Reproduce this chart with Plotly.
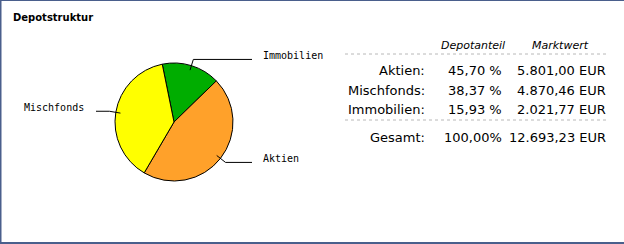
import math
import plotly.graph_objects as go

W, H = 624, 244

# ---- data ----
categories = ["Aktien", "Mischfonds", "Immobilien"]
depotanteil = [45.70, 38.37, 15.93]
marktwert = [5801.00, 4870.46, 2021.77]
gesamt_anteil = 100.00
gesamt_wert = 12693.23
pie_order = ["Immobilien", "Aktien", "Mischfonds"]
slice_colors = {"Aktien": "#FFA12A", "Mischfonds": "#FFFF00", "Immobilien": "#00AD00"}

def de(x, nd=2):
    s = f"{x:,.{nd}f}"
    return s.replace(",", "X").replace(".", ",").replace("X", ".")

def px(x):
    return x / W

def py(y):
    return 1 - y / H

# pie geometry (pixels)
cx, cy, r = 174, 122, 59
rotation = -11.5

pie_vals = [depotanteil[categories.index(c)] for c in pie_order]

fig = go.Figure()
fig.add_trace(go.Pie(
    labels=pie_order, values=pie_vals, sort=False, direction="clockwise",
    rotation=rotation, textinfo="none", hoverinfo="skip", showlegend=False,
    marker=dict(colors=[slice_colors[c] for c in pie_order], line=dict(color="black", width=1)),
    domain=dict(x=[px(cx - r), px(cx + r)], y=[py(cy + r), py(cy - r)]),
))

shapes = []
annotations = []

# leader lines & labels computed from the values
total = sum(pie_vals)
cum = 0.0
mono = dict(family="DejaVu Sans Mono", size=10, color="black")
for name, v in zip(pie_order, pie_vals):
    mid = rotation + (cum + v / 2) / total * 360.0
    cum += v
    a = math.radians(mid)
    sx, sy = cx + 0.92 * r * math.sin(a), cy - 0.92 * r * math.cos(a)
    ex, ey = cx + 1.11 * r * math.sin(a), cy - 1.11 * r * math.cos(a)
    right = math.sin(a) > 0
    hx = 252 if right else 96
    line = dict(color="black", width=1)
    shapes.append(dict(type="line", xref="paper", yref="paper", x0=px(sx), y0=py(sy),
                       x1=px(ex), y1=py(ey), line=line))
    shapes.append(dict(type="line", xref="paper", yref="paper", x0=px(ex), y0=py(ey),
                       x1=px(hx), y1=py(ey), line=line))
    annotations.append(dict(
        text=name, xref="paper", yref="paper", showarrow=False,
        x=px(261 if right else 86), y=py(ey - 4),
        xanchor="left" if right else "right", yanchor="middle", font=mono))

# title
annotations.append(dict(text="<b>Depotstruktur</b>", xref="paper", yref="paper", showarrow=False,
                        x=px(11), y=py(17), xanchor="left", yanchor="middle",
                        font=dict(family="DejaVu Sans", size=10, color="black")))

# table
tf = dict(family="DejaVu Sans", size=13, color="black")
hf = dict(family="DejaVu Sans", size=11, color="black")
annotations.append(dict(text="<i>Depotanteil</i>", xref="paper", yref="paper", showarrow=False,
                        x=px(473), y=py(45), xanchor="center", yanchor="middle", font=hf))
annotations.append(dict(text="<i>Marktwert</i>", xref="paper", yref="paper", showarrow=False,
                        x=px(560), y=py(45), xanchor="center", yanchor="middle", font=hf))

row_y = [71, 90, 110]
rows = [(c + ":", de(p) + " %", de(m) + " EUR") for c, p, m in zip(categories, depotanteil, marktwert)]
rows_y = list(zip(rows, row_y)) + [(("Gesamt:", de(gesamt_anteil) + "%", de(gesamt_wert) + " EUR"), 137)]
for (lab, pct, val), yy in rows_y:
    for txt, xr in ((lab, 427), (pct, 504), (val, 608)):
        annotations.append(dict(text=txt, xref="paper", yref="paper", showarrow=False,
                                x=px(xr), y=py(yy), xanchor="right", yanchor="middle", font=tf))

for yy in (54, 120):
    shapes.append(dict(type="line", xref="paper", yref="paper", x0=px(345), x1=px(609),
                       y0=py(yy), y1=py(yy), line=dict(color="#b8b8b8", width=1, dash="3px,3px")))

# frame
frame = "#4A5F8C"
shapes.append(dict(type="rect", xref="paper", yref="paper", x0=0, x1=px(1.5), y0=0, y1=1,
                   fillcolor=frame, line=dict(width=0), layer="above"))
shapes.append(dict(type="rect", xref="paper", yref="paper", x0=0, x1=1, y0=py(1), y1=1,
                   fillcolor=frame, line=dict(width=0), layer="above"))
shapes.append(dict(type="rect", xref="paper", yref="paper", x0=0, x1=1, y0=0, y1=py(242),
                   fillcolor=frame, line=dict(width=0), layer="above"))

fig.update_layout(width=W, height=H, margin=dict(l=0, r=0, t=0, b=0),
                  paper_bgcolor="white", plot_bgcolor="white",
                  shapes=shapes, annotations=annotations)

fig.write_html("out.html")
